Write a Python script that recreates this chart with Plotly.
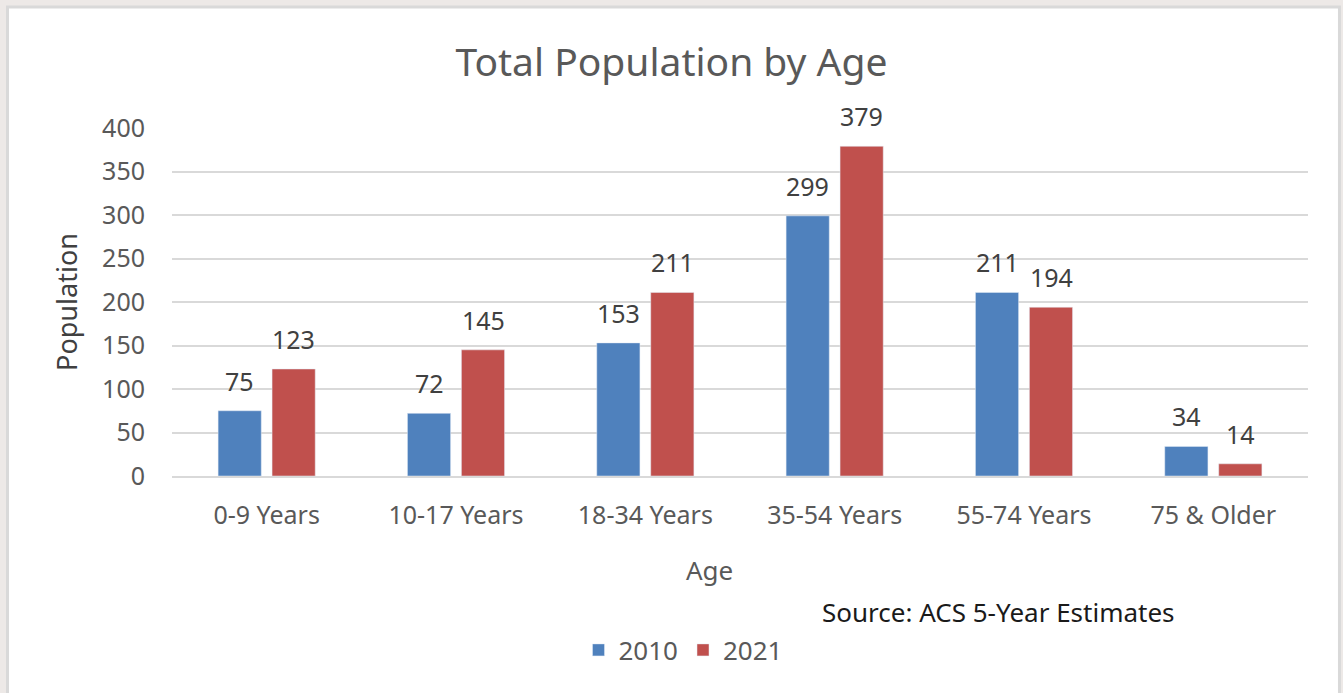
import plotly.graph_objects as go

ages = ["0-9 Years", "10-17 Years", "18-34 Years", "35-54 Years", "55-74 Years", "75 & Older"]
pop2010 = [75, 72, 153, 299, 211, 34]
pop2021 = [123, 145, 211, 379, 194, 14]

font = "Noto Sans"
grey = "#595959"

fig = go.Figure()
fig.add_trace(go.Bar(x=ages, y=pop2010, name="2010", marker_color="#4f81bd"))
fig.add_trace(go.Bar(x=ages, y=pop2021, name="2021", marker_color="#c0504d"))

# data labels sit a bit higher above the bars than plotly's "outside" text
for a, v1, v2 in zip(ages, pop2010, pop2021):
    fig.add_annotation(x=a, y=v1, text=str(v1), xshift=-27, yshift=30, showarrow=False,
                       font=dict(size=25, color="#404040"))
    fig.add_annotation(x=a, y=v2, text=str(v2), xshift=27, yshift=30, showarrow=False,
                       font=dict(size=25, color="#404040"))

# white card with light border, like the screenshot frame
fig.add_shape(type="rect", xref="paper", yref="paper",
              x0=-0.1448, x1=1.0277, y0=-0.7, y1=1.3477,
              fillcolor="white", line=dict(color="#d9d9d9", width=3), layer="below")

# x axis title is a little left of centre in the original
fig.add_annotation(text="Age", xref="paper", yref="paper",
                   x=(709 - 172) / 1136, y=(476 - 570) / 348, xanchor="center", yanchor="middle",
                   showarrow=False, font=dict(size=26, color=grey))

fig.add_annotation(text="Source: ACS 5-Year Estimates", xref="paper", yref="paper",
                   x=(820 - 172) / 1136, y=(476 - 612) / 348, xanchor="left", yanchor="middle",
                   showarrow=False, font=dict(size=26, color="#1a1a1a", family=font))

fig.update_layout(
    width=1343, height=693,
    margin=dict(l=172, r=35, t=128, b=217),
    paper_bgcolor="#ede9e7", plot_bgcolor="white",
    font=dict(family=font, color=grey, size=25),
    title=dict(text="Total Population by Age", x=0.5, xanchor="center",
               y=1 - 62 / 693, yanchor="middle", font=dict(size=39, color=grey)),
    barmode="group", bargap=0.43, bargroupgap=0.2,
    legend=dict(orientation="h", x=(683 - 172) / 1136, xanchor="center",
                y=(476 - 650) / 348, yanchor="middle", bgcolor="rgba(0,0,0,0)",
                font=dict(size=26, color=grey)),
    xaxis=dict(showline=True, linecolor="#d9d9d9", linewidth=2, ticks="",
               ticklabelstandoff=16, tickfont=dict(size=25, color=grey)),
    yaxis=dict(title=dict(text="Population", font=dict(size=27, color="#404040"), standoff=16),
               range=[0, 400], dtick=50, gridcolor="#d9d9d9", gridwidth=2,
               zeroline=False, showline=False, ticklabelstandoff=26,
               tickfont=dict(size=25, color=grey)),
)

fig.write_html("out.html", config={"displayModeBar": False},
               post_script="document.body.style.margin='0';")
